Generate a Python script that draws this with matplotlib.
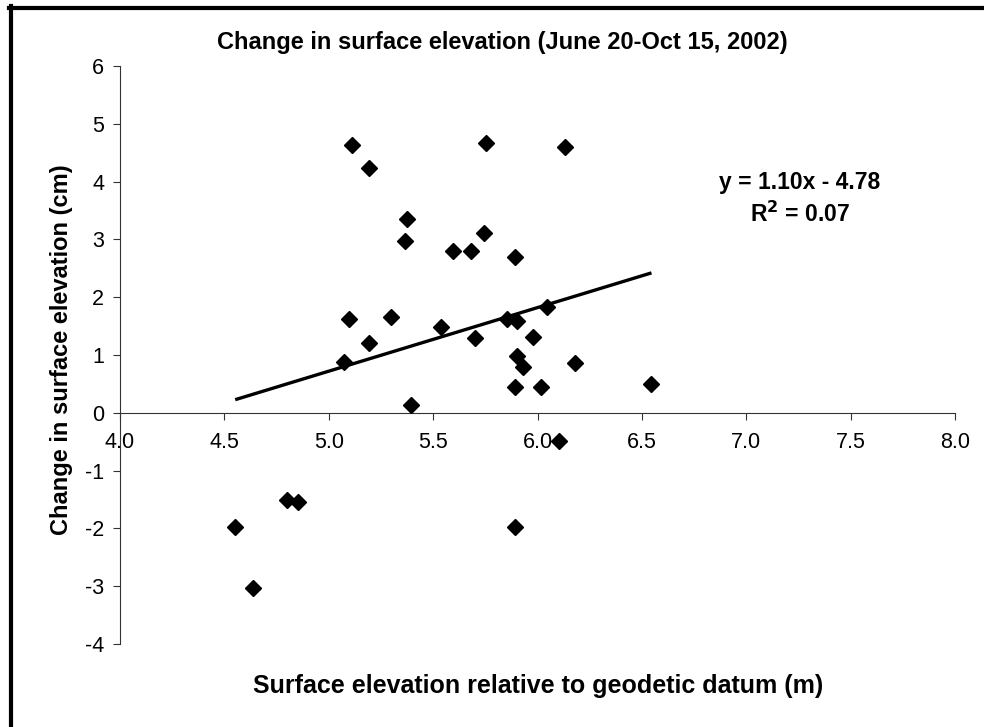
import matplotlib
matplotlib.use("Agg")
import matplotlib.pyplot as plt
from matplotlib.lines import Line2D
import numpy as np

plt.rcParams['font.family'] = ['Liberation Sans', 'DejaVu Sans']

# Data: surface elevation (m) vs change in surface elevation (cm)
elev = [5.110, 5.194, 5.376, 5.366, 5.751, 5.742, 5.597, 5.683, 5.892, 5.098,
        5.298, 5.194, 5.071, 5.537, 5.702, 5.853, 5.903, 5.978, 5.903, 5.932,
        5.892, 6.016, 5.395, 6.045, 6.133, 6.181, 6.546, 6.104, 4.552, 4.638,
        4.801, 4.851, 5.892]
change = [4.63, 4.24, 3.36, 2.97, 4.66, 3.11, 2.80, 2.80, 2.69, 1.63,
          1.66, 1.21, 0.875, 1.49, 1.29, 1.63, 1.59, 1.32, 0.98, 0.79,
          0.45, 0.45, 0.14, 1.83, 4.59, 0.87, 0.50, -0.48, -1.97, -3.03,
          -1.51, -1.55, -1.97]
slope = 1.10
intercept = -4.78
r2 = 0.07
xticks = [4.0, 4.5, 5.0, 5.5, 6.0, 6.5, 7.0, 7.5, 8.0]
yticks = [-4, -3, -2, -1, 0, 1, 2, 3, 4, 5, 6]

W, H = 984, 727
fig = plt.figure(figsize=(W / 100, H / 100), dpi=100)
ax = fig.add_axes([120 / W, 1 - 644 / H, (955 - 120) / W, (644 - 66) / H])

ax.plot(elev, change, linestyle='none', marker='D', markersize=8.5,
        color='black', zorder=3)
xs = np.array([min(elev), max(elev)])
ax.plot(xs, slope * xs + intercept, color='black', linewidth=2.4, zorder=2,
        solid_capstyle='butt')

ax.set_xlim(4.0, 8.0)
ax.set_ylim(-4, 6)
ax.set_xticks(xticks)
ax.set_xticklabels([f"{t:.1f}" for t in xticks])
ax.set_yticks(yticks)
ax.set_yticklabels([str(t) for t in yticks])

ax.spines['top'].set_visible(False)
ax.spines['right'].set_visible(False)
ax.spines['bottom'].set_position(('data', 0))
for s in ('left', 'bottom'):
    ax.spines[s].set_linewidth(0.8)
    ax.spines[s].set_color('#333333')
ax.tick_params(axis='x', direction='out', length=5, width=0.8, color='#333333',
               labelsize=15.5, pad=9)
ax.tick_params(axis='y', direction='out', length=5, width=0.8, color='#333333',
               labelsize=15.5, pad=6.5)

fig.text(538 / W, 1 - 686 / H, 'Surface elevation relative to geodetic datum (m)',
         ha='center', va='center', fontsize=18, fontweight='bold')
fig.text(62 / W, 1 - 350 / H, 'Change in surface elevation (cm)',
         ha='center', va='center', rotation=90, fontsize=17, fontweight='bold')
fig.text(502 / W, 1 - 43 / H, 'Change in surface elevation (June 20-Oct 15, 2002)',
         ha='center', va='center', fontsize=17, fontweight='bold')

fig.text(800 / W, 1 - 182 / H, f'y = {slope:.2f}x - {abs(intercept):.2f}',
         ha='center', va='center', fontsize=16.5, fontweight='bold')
fig.text(800 / W, 1 - 214 / H, f'R$^\\mathbf{{2}}$ = {r2:.2f}',
         ha='center', va='center', fontsize=16.5, fontweight='bold')

# frame lines (top and left) as in the reference
fig.add_artist(Line2D([9 / W, 1], [1 - 8 / H, 1 - 8 / H], color='black',
                      linewidth=3, transform=fig.transFigure))
fig.add_artist(Line2D([11 / W, 11 / W], [0, 1 - 6 / H], color='black',
                      linewidth=3, transform=fig.transFigure))

fig.savefig('out.png', dpi=100)
